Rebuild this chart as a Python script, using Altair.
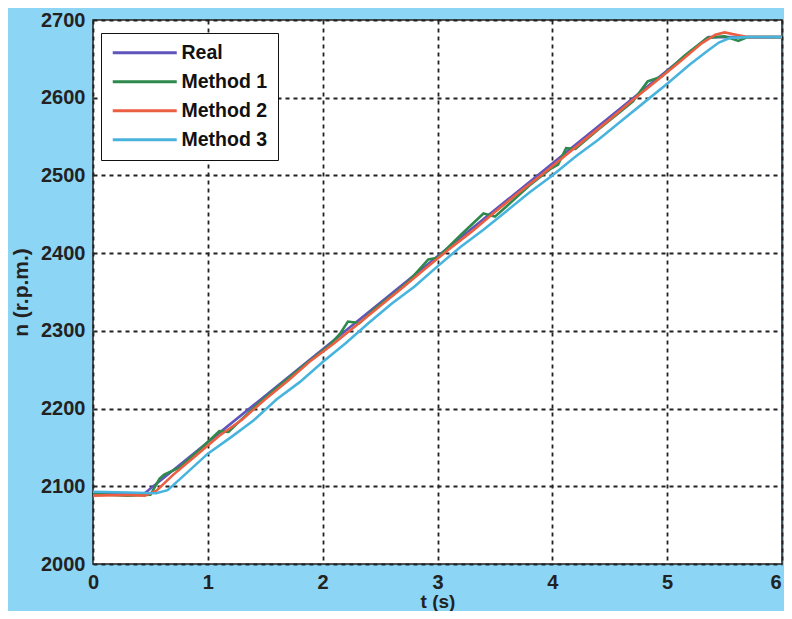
import altair as alt
import pandas as pd

# ---- data ----
t_real = [0.0, 0.45, 5.36, 6.0]
n_real = [2091, 2091, 2678, 2678]

t_m1 = [0.0, 0.3, 0.5, 0.58, 0.62, 0.75, 0.95, 1.1, 1.18, 1.25, 1.45, 1.65, 1.85,
        2.05, 2.15, 2.22, 2.32, 2.45, 2.6, 2.75, 2.92, 3.0, 3.2, 3.4, 3.5, 3.6,
        3.8, 3.98, 4.05, 4.12, 4.2, 4.4, 4.6, 4.7, 4.83, 4.95, 5.15, 5.35, 5.5,
        5.62, 5.7, 6.0]
n_m1 = [2090, 2088, 2089, 2110, 2115, 2124, 2150, 2171, 2170, 2180, 2208, 2233, 2257,
        2280, 2296, 2312, 2310, 2328, 2345, 2364, 2392, 2394, 2423, 2451, 2447, 2460,
        2487, 2508, 2514, 2535, 2534, 2559, 2583, 2595, 2621, 2627, 2654, 2677, 2679,
        2673, 2678, 2678]

t_m2 = [0.0, 0.3, 0.45, 0.55, 0.7, 0.9, 1.1, 1.3, 1.5, 1.7, 1.9, 2.1, 2.3, 2.5,
        2.7, 2.9, 3.1, 3.3, 3.5, 3.7, 3.9, 4.1, 4.3, 4.5, 4.7, 4.9, 5.1, 5.3,
        5.42, 5.5, 5.6, 5.7, 6.0]
n_m2 = [2088, 2089, 2088, 2094, 2115, 2140, 2165, 2186, 2212, 2236, 2262, 2284, 2308,
        2332, 2356, 2381, 2405, 2428, 2453, 2477, 2500, 2524, 2548, 2572, 2597, 2621,
        2645, 2670, 2681, 2684, 2681, 2678, 2678]

t_m3 = [0.0, 0.3, 0.55, 0.65, 0.8, 1.0, 1.2, 1.4, 1.6, 1.8, 2.0, 2.2, 2.4, 2.6,
        2.8, 3.0, 3.2, 3.4, 3.6, 3.8, 4.0, 4.2, 4.4, 4.6, 4.8, 5.0, 5.2, 5.35,
        5.45, 5.55, 5.7, 6.0]
n_m3 = [2093, 2092, 2091, 2095, 2115, 2142, 2163, 2185, 2212, 2234, 2260, 2284, 2310,
        2335, 2357, 2383, 2408, 2430, 2454, 2478, 2500, 2524, 2546, 2570, 2594, 2618,
        2643, 2660, 2671, 2677, 2678, 2678]

series_names = ["Real", "Method 1", "Method 2", "Method 3"]
series_colors = ["#5f55bd", "#2e8a4c", "#ec5e42", "#48b4dd"]
x_ticks = [0, 1, 2, 3, 4, 5, 6]
y_ticks = [2000, 2100, 2200, 2300, 2400, 2500, 2600, 2700]

frames = []
for name, ts, ns in zip(series_names, [t_real, t_m1, t_m2, t_m3], [n_real, n_m1, n_m2, n_m3]):
    frames.append(pd.DataFrame({"t": ts, "n": ns, "series": name}))
df = pd.concat(frames, ignore_index=True)
df["order"] = range(len(df))

FONT = "Liberation Sans"

chart = alt.Chart(df).mark_line(strokeWidth=2.6).encode(
    x=alt.X("t:Q", scale=alt.Scale(domain=[0, 6], nice=False),
            axis=alt.Axis(values=x_ticks, title="t (s)", format="d",
                          titleY=28, titleBaseline="top", titleFontSize=19,
                          labelAlign={"condition": {"test": "datum.value === 6",
                                                    "value": "right"},
                                      "value": "center"},
                          labelOffset={"condition": {"test": "datum.value === 6",
                                                     "value": -1},
                                       "value": 0})),
    y=alt.Y("n:Q", scale=alt.Scale(domain=[2000, 2700], nice=False, zero=False),
            axis=alt.Axis(values=y_ticks, title="n (r.p.m.)", format="d",
                          titleX=-62)),
    color=alt.Color("series:N",
                    scale=alt.Scale(domain=series_names, range=series_colors),
                    legend=alt.Legend(title=None, orient="none", legendX=8, legendY=13,
                                      symbolType="M-1,0H7", symbolSize=256,
                                      symbolStrokeWidth=3, labelFontSize=19.5,
                                      labelFont=FONT, labelFontWeight="bold",
                                      labelColor="#111", fillColor="white",
                                      strokeColor="#111", padding=10,
                                      rowPadding=8, labelOffset=51)),
    order="order:Q",
).properties(
    width=689, height=544,
    autosize=alt.AutoSizeParams(type="none"),
    padding={"left": 85, "top": 12, "right": 2, "bottom": 47},
    background="#8dd5f4",
).configure_view(
    fill="white", stroke="#222", strokeWidth=1.5
).configure_axis(
    grid=True, gridColor="#222", gridDash=[4, 4], gridWidth=1.8, gridOpacity=1,
    domain=False, ticks=False, labelFont=FONT, labelFontSize=20,
    labelFontWeight="bold", labelColor="#222", labelPadding=8,
    titleFont=FONT, titleFontSize=21, titleFontWeight="bold", titleColor="#222",
    labelFlush=False,
)

chart.save("out.html", embed_options={"renderer": "svg", "actions": False})
